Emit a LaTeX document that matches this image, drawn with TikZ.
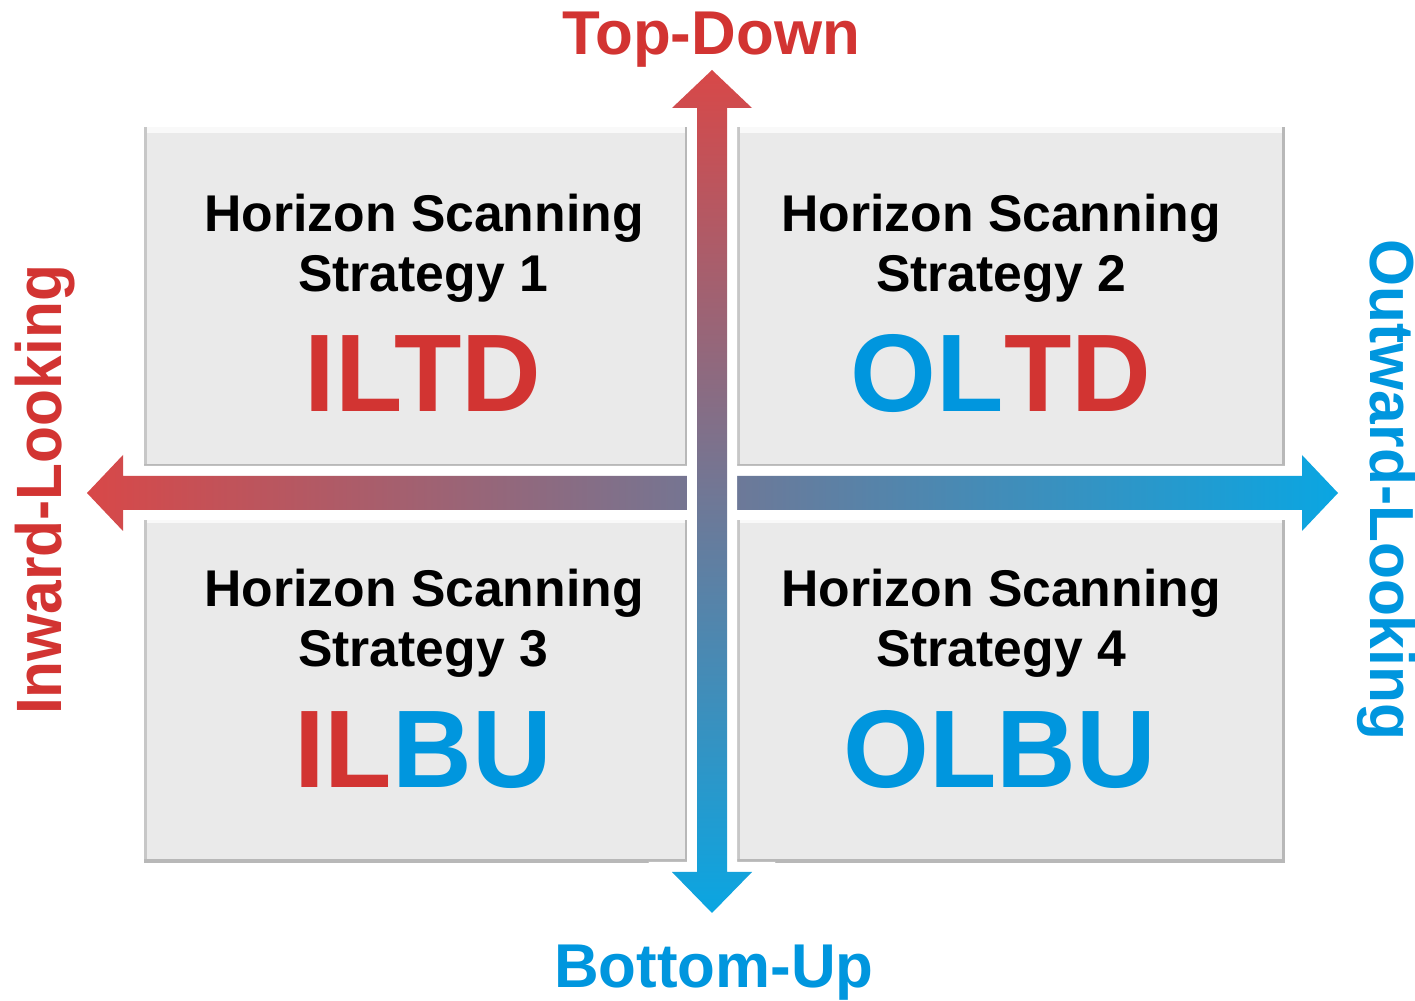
\documentclass[tikz,border=0pt]{standalone}
\usepackage{fontspec}
\setmainfont{Liberation Sans}
\usetikzlibrary{%
  calc,%
  positioning% wg. " of "
}
\definecolor{ltred}{RGB}{210,52,50}
\definecolor{ltblue}{RGB}{0,150,222}
\definecolor{arrowred}{RGB}{216,72,72}
\definecolor{arrowblue}{RGB}{10,166,226}
\definecolor{boxgray}{RGB}{234,234,234}

\begin{document}
\begin{tikzpicture}[
    x=0.1mm,y=0.1mm,
    quadrant/.style={fill=boxgray,
        path picture={
          \fill[white!70!boxgray] (path picture bounding box.north west)
            rectangle ([yshift=-0.6mm]path picture bounding box.north east);
          \fill[black!22] (path picture bounding box.north west)
            rectangle ([xshift=0.3mm]path picture bounding box.south west);
          \fill[black!28] (path picture bounding box.south west)
            rectangle ([yshift=0.35mm]path picture bounding box.south east);
          \fill[black!28] ([xshift=-0.35mm]path picture bounding box.north east)
            rectangle (path picture bounding box.south east);
        }},
    halo/.style={preaction={draw=white,line width=2mm,line join=miter}},
    title/.style={anchor=base,inner sep=0pt,
        font=\fontsize{14.7}{17}\selectfont\bfseries},
    acronym/.style={anchor=base,inner sep=0pt,
        font=\fontsize{31.4}{36}\selectfont\bfseries},
    axislabel/.style={anchor=base,inner sep=0pt,
        font=\fontsize{17.6}{20}\selectfont\bfseries},
    sidelabel/.style={anchor=base,inner sep=0pt,
        font=\fontsize{17.2}{20}\selectfont\bfseries}
  ]
    \useasboundingbox (0,0) rectangle (1415,1000);

    % quadrants
    \path[quadrant] (144,532) rectangle (688,873);
    \path[quadrant] (737,532) rectangle (1285,873);
    \path[quadrant] (144,137) rectangle (688,483);
    \path[quadrant] (737,137) rectangle (1285,483);

    \node (hs1) [title] at (424,768) {Horizon Scanning};
    \node (st1) [title] at (423,708) {Strategy 1};
    \node (ac1) [acronym,text=ltred] at (423,588) {ILTD};

    \node (hs2) [title] at (1001,768) {Horizon Scanning};
    \node (st2) [title] at (1001,708) {Strategy 2};
    \node (ac2) [acronym] at (1001,588) {\color{ltblue}OL\color{ltred}TD};

    \node (hs3) [title] at (424,393) {Horizon Scanning};
    \node (st3) [title] at (423,333) {Strategy 3};
    \node (ac3) [acronym] at (423,212) {\color{ltred}IL\color{ltblue}BU};

    \node (hs4) [title] at (1001,393) {Horizon Scanning};
    \node (st4) [title] at (1001,333) {Strategy 4};
    \node (ac4) [acronym,text=ltblue] at (1000,212) {OLBU};

    % axes
    \coordinate (il) at (87,507);
    \coordinate (ol) at (1338,507);
    \coordinate (td) at (712,930);
    \coordinate (bu) at (712,87);

    \shade[halo,left color=arrowred,right color=arrowblue]
      (il) -- ++(36,38) -- ++(0,-21) -- ($(ol)+(-36,17)$) -- ++(0,21)
      -- (ol) -- ++(-36,-38) -- ++(0,21) -- ($(il)+(36,-17)$) -- ++(0,-21)
      -- cycle;
    \shade[halo,top color=arrowred,bottom color=arrowblue]
      (td) -- ++(40,-38) -- ++(-25,0) -- ($(bu)+(15,41)$) -- ++(25,0)
      -- (bu) -- ++(-40,41) -- ++(25,0) -- ($(td)+(-15,-38)$) -- ++(-25,0)
      -- cycle;

    \node (tdlabel) [axislabel,text=ltred] at (711,945) {Top-Down};
    \node (bulabel) [axislabel,text=ltblue] at (714,12) {Bottom-Up};
    \node (illabel) [sidelabel,text=ltred,rotate=90,yscale=1.06]
      at (61,510) {Inward-Looking};
    \node (ollabel) [sidelabel,text=ltblue,rotate=-90,yscale=1.03]
      at (1370,510) {Outward-Looking};
\end{tikzpicture}
\end{document}
